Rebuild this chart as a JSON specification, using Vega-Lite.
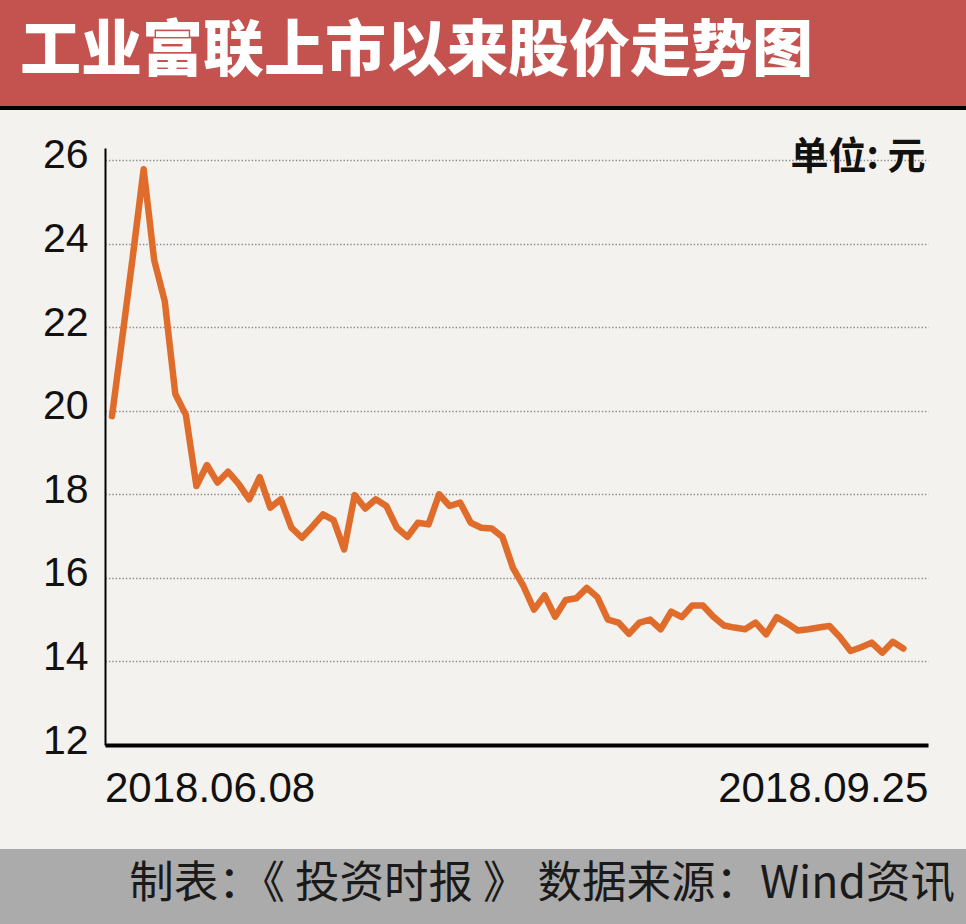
{
  "$schema": "https://vega.github.io/schema/vega-lite/v6.json",
  "background": "#F3F2EE",
  "padding": 0,
  "spacing": 24,
  "config": {"view": {"stroke": null}, "font": "Liberation Sans"},
  "vconcat": [
    {
      "spacing": 0,
      "vconcat": [
        {
          "width": 966,
          "height": 106,
          "view": {"fill": "#C4534F", "stroke": null},
          "data": {"values": [{"label": "工业富联上市以来股价走势图"}]},
          "mark": {"type": "text", "align": "left", "baseline": "middle", "dx": -463, "font": "Noto Sans CJK SC", "fontSize": 61, "fontWeight": 900, "color": "#FFFFFF"},
          "encoding": {"text": {"field": "label", "type": "nominal"}}
        },
        {
          "width": 966,
          "height": 4,
          "view": {"fill": "#000000", "stroke": null},
          "data": {"values": []},
          "mark": "text",
          "encoding": {}
        }
      ]
    },
    {
      "spacing": 0,
      "hconcat": [
        {
          "width": 1,
          "height": 1,
          "data": {"values": []},
          "mark": "text",
          "encoding": {}
        },
        {
          "width": 823,
          "height": 597,
          "data": {"values": [
            {"date": "2018.06.08", "close": 19.87},
            {"date": "2018.06.11", "close": 21.8},
            {"date": "2018.06.12", "close": 23.75},
            {"date": "2018.06.13", "close": 25.78},
            {"date": "2018.06.14", "close": 23.6},
            {"date": "2018.06.15", "close": 22.62},
            {"date": "2018.06.19", "close": 20.4},
            {"date": "2018.06.20", "close": 19.9},
            {"date": "2018.06.21", "close": 18.2},
            {"date": "2018.06.22", "close": 18.7},
            {"date": "2018.06.25", "close": 18.28},
            {"date": "2018.06.26", "close": 18.54},
            {"date": "2018.06.27", "close": 18.25},
            {"date": "2018.06.28", "close": 17.88},
            {"date": "2018.06.29", "close": 18.41},
            {"date": "2018.07.02", "close": 17.68},
            {"date": "2018.07.03", "close": 17.88},
            {"date": "2018.07.04", "close": 17.2},
            {"date": "2018.07.05", "close": 16.96},
            {"date": "2018.07.06", "close": 17.23},
            {"date": "2018.07.09", "close": 17.52},
            {"date": "2018.07.10", "close": 17.38},
            {"date": "2018.07.11", "close": 16.68},
            {"date": "2018.07.12", "close": 17.98},
            {"date": "2018.07.13", "close": 17.66},
            {"date": "2018.07.16", "close": 17.88},
            {"date": "2018.07.17", "close": 17.72},
            {"date": "2018.07.18", "close": 17.2},
            {"date": "2018.07.19", "close": 16.98},
            {"date": "2018.07.20", "close": 17.32},
            {"date": "2018.07.23", "close": 17.28},
            {"date": "2018.07.24", "close": 18.0},
            {"date": "2018.07.25", "close": 17.72},
            {"date": "2018.07.26", "close": 17.8},
            {"date": "2018.07.27", "close": 17.32},
            {"date": "2018.07.30", "close": 17.2},
            {"date": "2018.07.31", "close": 17.18},
            {"date": "2018.08.01", "close": 16.98},
            {"date": "2018.08.02", "close": 16.24},
            {"date": "2018.08.03", "close": 15.8},
            {"date": "2018.08.06", "close": 15.24},
            {"date": "2018.08.07", "close": 15.58},
            {"date": "2018.08.08", "close": 15.07},
            {"date": "2018.08.09", "close": 15.47},
            {"date": "2018.08.10", "close": 15.51},
            {"date": "2018.08.13", "close": 15.76},
            {"date": "2018.08.14", "close": 15.54},
            {"date": "2018.08.15", "close": 15.0},
            {"date": "2018.08.16", "close": 14.93},
            {"date": "2018.08.17", "close": 14.66},
            {"date": "2018.08.20", "close": 14.93},
            {"date": "2018.08.21", "close": 15.0},
            {"date": "2018.08.22", "close": 14.77},
            {"date": "2018.08.23", "close": 15.19},
            {"date": "2018.08.24", "close": 15.06},
            {"date": "2018.08.27", "close": 15.34},
            {"date": "2018.08.28", "close": 15.34},
            {"date": "2018.08.29", "close": 15.07},
            {"date": "2018.08.30", "close": 14.86},
            {"date": "2018.08.31", "close": 14.81},
            {"date": "2018.09.03", "close": 14.77},
            {"date": "2018.09.04", "close": 14.93},
            {"date": "2018.09.05", "close": 14.65},
            {"date": "2018.09.06", "close": 15.06},
            {"date": "2018.09.07", "close": 14.91},
            {"date": "2018.09.10", "close": 14.74},
            {"date": "2018.09.11", "close": 14.77},
            {"date": "2018.09.12", "close": 14.81},
            {"date": "2018.09.13", "close": 14.85},
            {"date": "2018.09.14", "close": 14.58},
            {"date": "2018.09.17", "close": 14.25},
            {"date": "2018.09.18", "close": 14.34},
            {"date": "2018.09.19", "close": 14.45},
            {"date": "2018.09.20", "close": 14.21},
            {"date": "2018.09.21", "close": 14.47},
            {"date": "2018.09.25", "close": 14.31}
          ]},
          "mark": {"type": "line", "color": "#DF6C2B", "strokeWidth": 6.5, "strokeJoin": "round", "strokeCap": "round"},
          "encoding": {
            "x": {
              "field": "date",
              "type": "ordinal",
              "scale": {"type": "band", "paddingInner": 0, "paddingOuter": 1, "align": 0.0816},
              "axis": {
                "values": ["2018.06.08", "2018.09.25"],
                "title": null,
                "grid": false,
                "ticks": false,
                "tickSize": 0,
                "domain": true,
                "domainColor": "#000000",
                "domainWidth": 4,
                "labelFont": "Liberation Sans",
                "labelFontSize": 42,
                "labelColor": "#111111",
                "labelBaseline": "alphabetic",
                "labelPadding": 56,
                "labelAngle": 0,
                "labelLimit": 0,
                "labelOverlap": false,
                "labelAlign": {"condition": {"test": "datum.value === '2018.06.08'", "value": "left"}, "value": "right"},
                "labelOffset": {"condition": {"test": "datum.value === '2018.06.08'", "value": -7}, "value": 25},
                "minExtent": 80
              }
            },
            "y": {
              "field": "close",
              "type": "quantitative",
              "scale": {"domain": [12, 26.287], "nice": false, "zero": false},
              "axis": {
                "values": [12, 14, 16, 18, 20, 22, 24, 26],
                "grid": true,
                "gridColor": "#8A8A8A",
                "gridDash": [1.4, 2],
                "gridWidth": 1.4,
                "ticks": false,
                "tickSize": 0,
                "domain": true,
                "domainColor": "#000000",
                "domainWidth": 2,
                "labelFont": "Liberation Sans",
                "labelFontSize": 41,
                "labelColor": "#111111",
                "labelPadding": 17,
                "labelBaseline": "alphabetic",
                "labelOffset": 8,
                "minExtent": 104,
                "title": "单位: 元",
                "titleAngle": 0,
                "titleX": 820,
                "titleY": 9,
                "titleAlign": "right",
                "titleBaseline": "middle",
                "titleFont": "Noto Sans CJK SC",
                "titleFontSize": 38,
                "titleFontWeight": "bold",
                "titleColor": "#111111"
              }
            }
          }
        }
      ]
    },
    {
      "width": 966,
      "height": 76,
      "view": {"fill": "#ABABAB", "stroke": null},
      "data": {"values": [{"label": "制表：《 投资时报 》 数据来源：Wind资讯"}]},
      "mark": {"type": "text", "align": "right", "baseline": "middle", "dx": 472, "dy": -2, "font": "Noto Sans CJK SC", "fontSize": 44.5, "fontWeight": "normal", "color": "#1A1A1A"},
      "encoding": {"text": {"field": "label", "type": "nominal"}}
    }
  ]
}
